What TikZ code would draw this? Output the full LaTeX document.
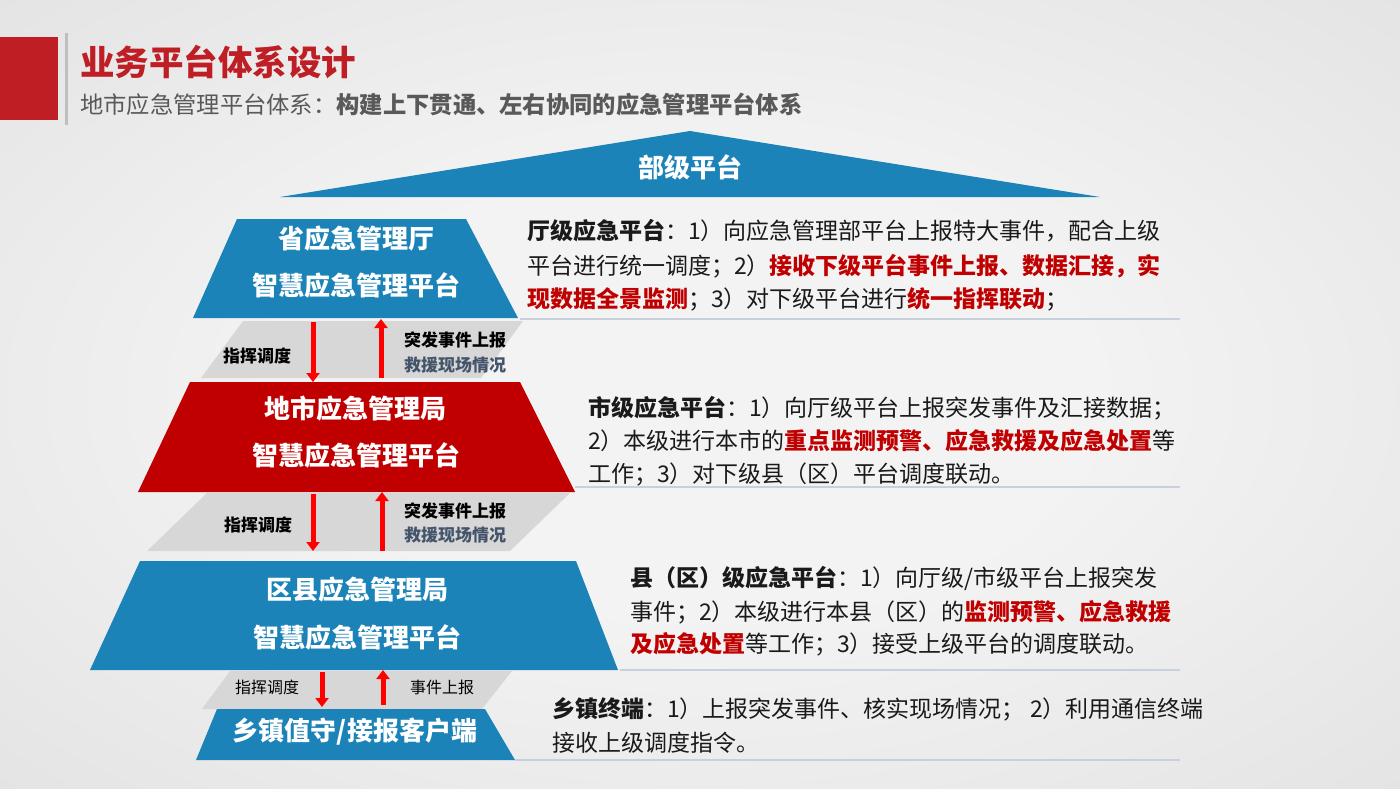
\documentclass[tikz,border=0pt]{standalone}
\usepackage{fontspec}
\setmainfont{Noto Sans CJK SC}
\usetikzlibrary{arrows.meta}
\definecolor{bgc}{HTML}{DADADA}
\definecolor{bgi}{HTML}{F3F3F3}
\definecolor{pblue}{HTML}{1B83B8}
\definecolor{pred}{HTML}{C00000}
\definecolor{tred}{HTML}{BE1E24}
\definecolor{bandc}{HTML}{D7D7D7}
\definecolor{subg}{HTML}{595959}
\definecolor{slate}{HTML}{44546A}
\definecolor{sepl}{HTML}{C8D0DC}
\definecolor{arr}{HTML}{FF0000}
\definecolor{bodyc}{HTML}{1A1A1A}
\pgfdeclareradialshading{bgsh}{\pgfpoint{0bp}{0bp}}{color(0bp)=(bgi); color(14bp)=(bgi); color(50bp)=(bgc)}
\newcommand\hl[1]{\textcolor{pred}{\bfseries #1}}
\begin{document}
\begin{tikzpicture}[x=1pt,y=-1pt,
  body/.style={anchor=base west, inner sep=0pt, font=\fontsize{23}{23}\selectfont, text=bodyc},
  ptxt/.style={anchor=base, inner sep=0pt, text=white, font=\fontsize{26}{26}\selectfont\bfseries},
  blab/.style={anchor=base, inner sep=0pt, font=\fontsize{17}{17}\selectfont\bfseries, text=black},
  slab/.style={anchor=base, inner sep=0pt, font=\fontsize{16}{16}\selectfont, text=black},
  arrowline/.style={draw=arr, line width=5pt, -{Triangle[width=13pt,length=9pt]}},
  sepline/.style={draw=sepl, line width=1.2pt}]
\useasboundingbox (0,0) rectangle (1400,788);
\shade[shading=bgsh] (0,0) rectangle (1400,788);

% title
\fill[tred] (0,37) rectangle (58,120);
\fill[black!25] (65,33) rectangle (68,125);
\node[anchor=base west, inner sep=0pt, font=\fontsize{34.5}{34.5}\selectfont\bfseries, text=tred] (title) at (80,75) {业务平台体系设计};
\node[anchor=base west, inner sep=0pt, font=\fontsize{23.3}{23.3}\selectfont, text=subg] (subtitle) at (80,113) {地市应急管理平台体系：\textbf{构建上下贯通、左右协同的应急管理平台体系}};

% top triangle
\fill[pblue] (280,197) -- (690,131) -- (1100,197) -- cycle;
\node[ptxt] (top) at (690,177) {部级平台};

% gray bands
\fill[bandc] (243,321) -- (523,321) -- (481,378) -- (201,378) -- cycle;
\fill[bandc] (207,493) -- (570,493) -- (510,551) -- (147,551) -- cycle;
\fill[bandc] (230,671) -- (512,671) -- (482,709) -- (202,709) -- cycle;

% trapezoids
\fill[pblue] (237,219) -- (466,219) -- (518,318) -- (193,318) -- cycle;
\fill[pred] (190,382) -- (520,382) -- (575,492) -- (138,492) -- cycle;
\fill[pblue] (140,561) -- (576,561) -- (618,670) -- (90,670) -- cycle;
\fill[pblue] (217,709) -- (485,709) -- (515,760) -- (196,760) -- cycle;

\node[ptxt] (p1a) at (356,248) {省应急管理厅};
\node[ptxt] (p1b) at (356,295) {智慧应急管理平台};
\node[ptxt] (p2a) at (355,418) {地市应急管理局};
\node[ptxt] (p2b) at (356,465) {智慧应急管理平台};
\node[ptxt] (p3a) at (357,599) {区县应急管理局};
\node[ptxt] (p3b) at (357,647) {智慧应急管理平台};
\node[ptxt] (p4) at (355,740) {乡镇值守/接报客户端};

% arrows
\coordinate (d1s) at (313,322); \coordinate (d1e) at (313,382);
\coordinate (u1s) at (381,378); \coordinate (u1e) at (381,319);
\coordinate (d2s) at (313,494); \coordinate (d2e) at (313,551);
\coordinate (u2s) at (382,551); \coordinate (u2e) at (382,492);
\coordinate (d3s) at (322,672); \coordinate (d3e) at (322,707);
\coordinate (u3s) at (383,705); \coordinate (u3e) at (383,670);
\draw[arrowline] (d1s) -- (d1e);
\draw[arrowline] (u1s) -- (u1e);
\draw[arrowline] (d2s) -- (d2e);
\draw[arrowline] (u2s) -- (u2e);
\draw[arrowline] (d3s) -- (d3e);
\draw[arrowline] (u3s) -- (u3e);

% band labels
\node[blab] (l1a) at (257,362) {指挥调度};
\node[blab] (l1b) at (455,346.5) {突发事件上报};
\node[blab, text=slate] (l1c) at (455,371.5) {救援现场情况};
\node[blab] (l2a) at (258,531.5) {指挥调度};
\node[blab] (l2b) at (455,517.5) {突发事件上报};
\node[blab, text=slate] (l2c) at (455,541.5) {救援现场情况};
\node[slab] (l3a) at (267,693) {指挥调度};
\node[slab] (l3b) at (442,693) {事件上报};

% text block 1
\node[body] (t1a) at (527,239) {\textbf{厅级应急平台}：1）向应急管理部平台上报特大事件，配合上级};
\node[body] (t1b) at (527,274) {平台进行统一调度；2）\hl{接收下级平台事件上报、数据汇接，实}};
\node[body] (t1c) at (527,307) {\hl{现数据全景监测}；3）对下级平台进行\hl{统一指挥联动}；};
% text block 2
\node[body] (t2a) at (588,416) {\textbf{市级应急平台}：1）向厅级平台上报突发事件及汇接数据；};
\node[body] (t2b) at (588,449) {2）本级进行本市的\hl{重点监测预警、应急救援及应急处置}等};
\node[body] (t2c) at (588,482) {工作；3）对下级县（区）平台调度联动。};
% text block 3
\node[body] (t3a) at (630,586) {\textbf{县（区）级应急平台}：1）向厅级/市级平台上报突发};
\node[body] (t3b) at (630,620) {事件；2）本级进行本县（区）的\hl{监测预警、应急救援}};
\node[body] (t3c) at (630,652) {\hl{及应急处置}等工作；3）接受上级平台的调度联动。};
% text block 4
\node[body] (t4a) at (552,717) {\textbf{乡镇终端}：1）上报突发事件、核实现场情况； 2）利用通信终端};
\node[body] (t4b) at (552,751) {接收上级调度指令。};

% separators
\coordinate (s1a) at (520,319); \coordinate (s1b) at (1180,319);
\coordinate (s2a) at (575,487); \coordinate (s2b) at (1180,487);
\coordinate (s3a) at (620,670); \coordinate (s3b) at (1180,670);
\coordinate (s4a) at (515,760); \coordinate (s4b) at (1180,760);
\draw[sepline] (s1a) -- (s1b);
\draw[sepline] (s2a) -- (s2b);
\draw[sepline] (s3a) -- (s3b);
\draw[sepline] (s4a) -- (s4b);
\end{tikzpicture}
\end{document}
